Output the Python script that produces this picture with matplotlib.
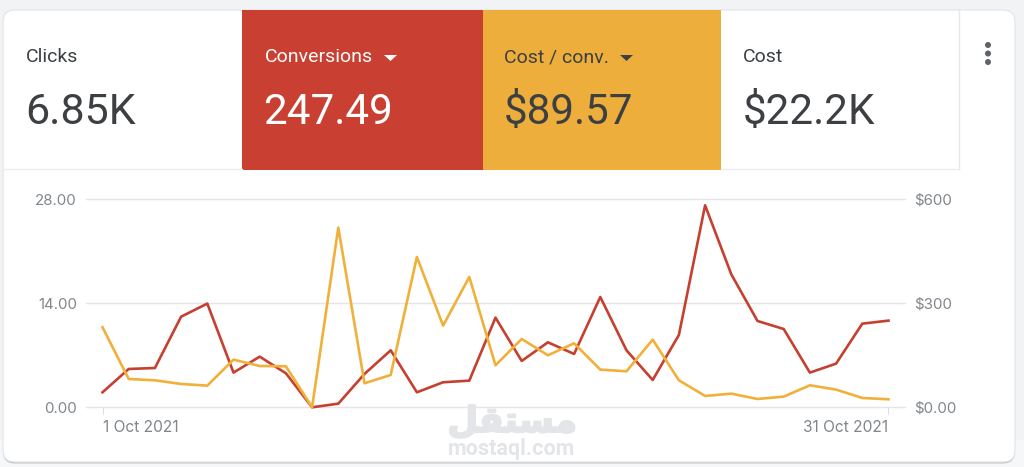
import matplotlib
matplotlib.use('Agg')
import matplotlib.pyplot as plt
import matplotlib.patheffects as pe
import numpy as np
from matplotlib.patches import FancyBboxPatch, Rectangle, Polygon, Circle

plt.rcParams['font.family'] = ['Roboto', 'DejaVu Sans']

# data
days = np.arange(1, 32)
conversions = [2.02, 5.16, 5.29, 12.2, 13.96, 4.67, 6.82, 4.58, 0.0, 0.49, 4.49,
               7.67, 2.02, 3.37, 3.59, 12.07, 6.24, 8.75, 7.18, 14.85, 7.67, 3.68,
               9.74, 27.19, 17.9, 11.62, 10.54, 4.67, 5.88, 11.26, 11.67]
cost_per_conv = [230.8, 81.7, 77.9, 67.3, 62.5, 137.5, 119.2, 118.3, 0.0, 518.3, 69.2,
                 93.3, 433.7, 235.6, 376.0, 121.2, 197.1, 150.0, 184.6, 108.7, 103.8, 195.2,
                 77.9, 32.7, 39.4, 24.0, 30.8, 63.5, 51.0, 26.9, 23.1]
left_ticks = [0, 14, 28]
left_labels = ['0.00', '14.00', '28.00']
right_ticks = [0, 300, 600]
right_labels = ['$0.00', '$300', '$600']
date_ticks = [1, 31]
date_labels = ['1 Oct 2021', '31 Oct 2021']
tile_names = ['Clicks', 'Conversions', 'Cost / conv.', 'Cost']
tile_values = ['6.85K', '247.49', '$89.57', '$22.2K']

W, H = 1024, 467
RED = '#c93f31'
YELLOW = '#eeae3b'
DARK = '#3c4043'
GRAY = '#80868b'
TICK_FONT = ['Inter', 'DejaVu Sans']

fig = plt.figure(figsize=(W / 100, H / 100), dpi=100, facecolor='#f1f3f4')

# card and header drawn in pixel space
bg = fig.add_axes([0, 0, 1, 1])
bg.set_xlim(0, W)
bg.set_ylim(H, 0)
bg.axis('off')

bg.add_patch(Rectangle((0, 440), W, 27, color='#f6f7f8', lw=0))
bg.add_patch(FancyBboxPatch((15, 22), 988, 429.5, boxstyle='round,pad=12,rounding_size=12',
                            fc='#bfc1c4', ec='none', lw=0))
bg.add_patch(FancyBboxPatch((15, 22), 988, 428, boxstyle='round,pad=12,rounding_size=12',
                            fc='white', ec='#e2e4e6', lw=0.8))
bg.add_patch(Rectangle((242, 10), 241, 160, fc=RED, ec='none'))
bg.add_patch(Rectangle((483, 10), 238, 160, fc=YELLOW, ec='none'))
bg.plot([3, 242], [169, 169], color='#ebedef', lw=1)
bg.plot([721, 959], [169, 169], color='#ebedef', lw=1)
bg.plot([959, 959], [10, 169], color='#e6e8ea', lw=1)

tile_x = [26, 265, 504, 743]
value_x = [25.5, 263.5, 504, 743]
value_size = [31, 30.3, 30.3, 30.3]
tile_colors = [DARK, 'white', DARK, DARK]
for x, vx, fs, name, val, col in zip(tile_x, value_x, value_size, tile_names, tile_values, tile_colors):
    bg.text(x, 62, name, fontsize=14, color=col, va='baseline', ha='left')
    bg.text(vx, 124, val, fontsize=fs, color=col, va='baseline', ha='left')

bg.add_patch(Polygon([(384, 55), (397, 55), (390.5, 61)], fc='white', ec='none'))
bg.add_patch(Polygon([(620, 55), (633, 55), (626.5, 61)], fc=DARK, ec='none'))
for y in [45, 53.5, 62]:
    bg.add_patch(Circle((988, y), 3, fc='#5f6368', ec='none'))

# watermark
logo = bg.text(512, 432, '\ufede\ufed8\ufe98\ufeb4\ufee3', family='DejaVu Sans', fontsize=25.5,
               fontweight='bold', color='#e3e5e8', ha='center', va='baseline')
logo.set_path_effects([pe.withStroke(linewidth=1.5, foreground='#e3e5e8')])
bg.text(512, 454.5, 'mostaql.com', fontsize=15.5, fontweight='bold', color='#e3e5e8',
        ha='center', va='baseline')

# chart axes
px_l, px_r, px_t, px_b = 86, 905, 199.3, 407.3
ax = fig.add_axes([px_l / W, 1 - px_b / H, (px_r - px_l) / W, (px_b - px_t) / H])
ax.patch.set_alpha(0)
ax.set_xlim(0.37, 31.63)
ax.set_ylim(0, 28)
ax2 = ax.twinx()
ax2.patch.set_alpha(0)
ax2.set_ylim(0, 600)

ax.set_yticks(left_ticks)
ax.set_yticklabels(left_labels)
ax2.set_yticks(right_ticks)
ax2.set_yticklabels(right_labels)
ax.set_xticks(date_ticks)
ax.set_xticklabels(date_labels)
ax.get_xticklabels()[0].set_ha('left')
ax.get_xticklabels()[1].set_ha('right')

for a in (ax, ax2):
    for s in a.spines.values():
        s.set_visible(False)
ax.tick_params(axis='y', length=0, labelsize=10.8, labelcolor=GRAY, pad=6.5)
ax2.tick_params(axis='y', length=0, labelsize=10.8, labelcolor=GRAY, pad=6.5)
ax.tick_params(axis='x', length=5, width=0.7, color='#dadce0', labelsize=11.2,
               labelcolor=GRAY, pad=4)
for lab in ax.get_yticklabels() + ax2.get_yticklabels() + ax.get_xticklabels():
    lab.set_family(TICK_FONT)
ax.grid(True, axis='y', color='#e3e5e8', lw=1)
ax.set_axisbelow(True)
for line in ax.get_ygridlines():
    line.set_clip_on(False)

ax.plot(days, conversions, color='#c5402f', lw=1.9, clip_on=False, zorder=3)
ax2.plot(days, cost_per_conv, color='#f0b03a', lw=1.9, clip_on=False, zorder=4)

fig.savefig('out.png', dpi=100, facecolor=fig.get_facecolor())
